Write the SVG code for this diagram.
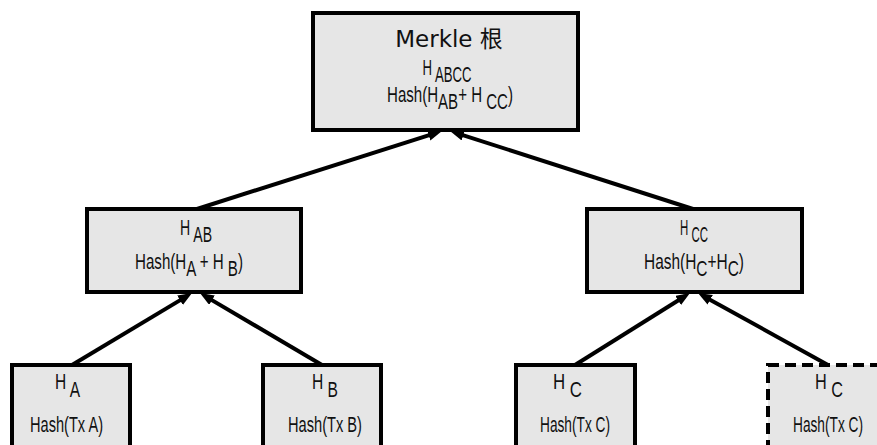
<svg xmlns="http://www.w3.org/2000/svg" width="877" height="445" viewBox="0 0 877 445">
<style>
.box{fill:#e6e6e6;stroke:#000;stroke-width:4}
.dash{stroke-dasharray:11 6}
.t{font-family:"Liberation Sans",Arial,sans-serif;font-size:22px;fill:#111;text-anchor:middle}
.m{font-family:"DejaVu Sans","Noto Sans CJK SC",sans-serif;font-size:23px;fill:#111;text-anchor:middle}
.c{stroke:#000;stroke-width:4;fill:none;marker-end:url(#ah)}
</style>
<defs>
<marker id="ah" markerUnits="userSpaceOnUse" markerWidth="14" markerHeight="12" refX="8" refY="5.5" orient="auto">
<path d="M0,0 L14,5.5 L0,11 z" fill="#000"/>
</marker>
</defs>
<rect width="877" height="445" fill="#fff"/>
<g id="connectors">
<line class="c" x1="197" y1="209" x2="436.3" y2="132.8"/>
<line class="c" x1="693" y1="209" x2="455.7" y2="132.8"/>
<line class="c" x1="72" y1="365" x2="186.9" y2="296.1"/>
<line class="c" x1="322" y1="365" x2="205.1" y2="296.1"/>
<line class="c" x1="575" y1="365" x2="684.9" y2="296.2"/>
<line class="c" x1="828" y1="365" x2="703.2" y2="295.9"/>
</g>
<g id="root">
<rect class="box" x="313" y="13" width="265" height="117"/>
<text class="m" x="449" y="47">Merkle 根</text>
<text class="t" x="447" y="75" textLength="49" lengthAdjust="spacingAndGlyphs">H<tspan dy="7"> ABCC</tspan></text>
<text class="t" x="450" y="102" textLength="126" lengthAdjust="spacingAndGlyphs">Hash(H<tspan dy="7">AB</tspan><tspan dy="-7">+ H</tspan><tspan dy="7"> CC</tspan><tspan dy="-7">)</tspan></text>
</g>
<g id="hab">
<rect class="box" x="87" y="209" width="214" height="83"/>
<text class="t" x="196" y="235" textLength="32" lengthAdjust="spacingAndGlyphs">H<tspan dy="7"> AB</tspan></text>
<text class="t" x="189" y="269" textLength="108" lengthAdjust="spacingAndGlyphs">Hash(H<tspan dy="7">A</tspan><tspan dy="-7"> + H</tspan><tspan dy="7"> B</tspan><tspan dy="-7">)</tspan></text>
</g>
<g id="hcc">
<rect class="box" x="587" y="209" width="215" height="83"/>
<text class="t" x="694" y="235" textLength="28" lengthAdjust="spacingAndGlyphs">H<tspan dy="7"> CC</tspan></text>
<text class="t" x="694" y="269" textLength="100" lengthAdjust="spacingAndGlyphs">Hash(H<tspan dy="7">C</tspan><tspan dy="-7">+H</tspan><tspan dy="7">C</tspan><tspan dy="-7">)</tspan></text>
</g>
<g id="ha">
<rect class="box" x="12" y="365" width="118" height="100"/>
<text class="t" x="67.5" y="389" textLength="25" lengthAdjust="spacingAndGlyphs">H<tspan dy="8"> A</tspan></text>
<text class="t" x="66.5" y="432" textLength="73" lengthAdjust="spacingAndGlyphs">Hash(Tx A)</text>
</g>
<g id="hb">
<rect class="box" x="263" y="365" width="118" height="100"/>
<text class="t" x="325" y="389" textLength="26" lengthAdjust="spacingAndGlyphs">H<tspan dy="8"> B</tspan></text>
<text class="t" x="325" y="432" textLength="74" lengthAdjust="spacingAndGlyphs">Hash(Tx B)</text>
</g>
<g id="hc">
<rect class="box" x="516" y="365" width="119" height="100"/>
<text class="t" x="567.5" y="389" textLength="29" lengthAdjust="spacingAndGlyphs">H<tspan dy="8"> C</tspan></text>
<text class="t" x="575" y="432" textLength="70" lengthAdjust="spacingAndGlyphs">Hash(Tx C)</text>
</g>
<g id="hc-dup">
<rect class="box dash" x="768" y="365" width="130" height="100"/>
<text class="t" x="829" y="389" textLength="28" lengthAdjust="spacingAndGlyphs">H<tspan dy="8"> C</tspan></text>
<text class="t" x="828" y="432" textLength="70" lengthAdjust="spacingAndGlyphs">Hash(Tx C)</text>
</g>
</svg>
